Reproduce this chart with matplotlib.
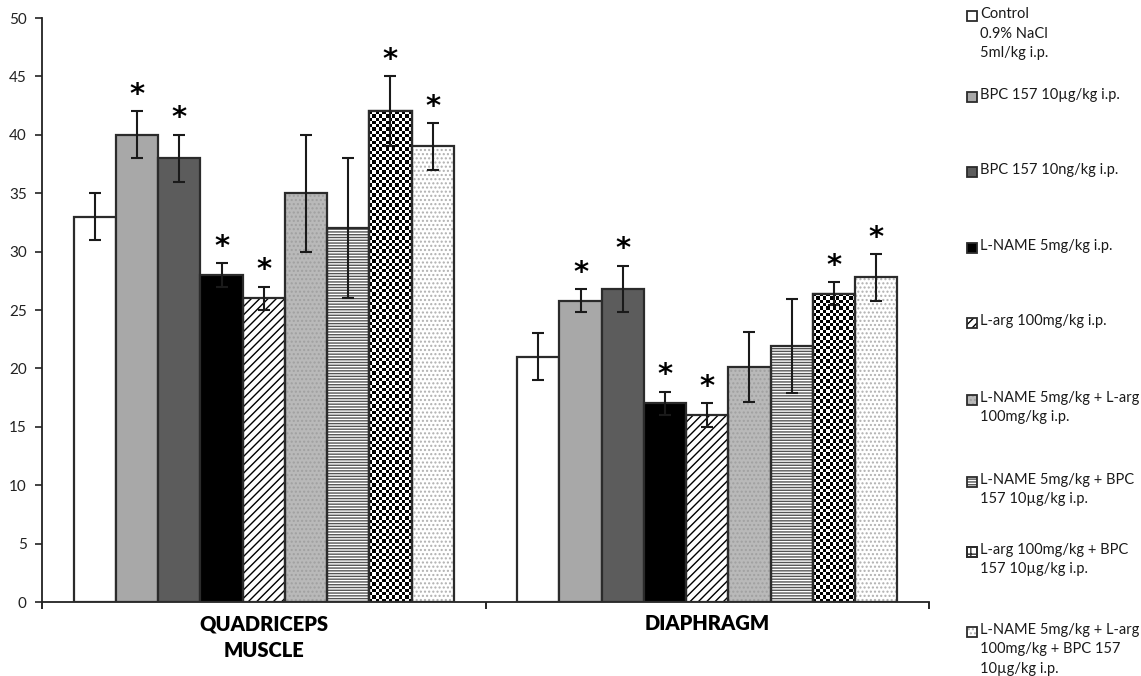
import numpy as np
import matplotlib
matplotlib.use("Agg")
import matplotlib.pyplot as plt
from matplotlib.patches import Rectangle

plt.rcParams['font.family'] = ['Lato', 'DejaVu Sans']
plt.rcParams['hatch.linewidth'] = 1.0

# data
categories = ["QUADRICEPS\nMUSCLE", "DIAPHRAGM"]
groups = ["Control\n0.9% NaCl\n5ml/kg i.p.",
          "BPC 157 10µg/kg i.p.",
          "BPC 157 10ng/kg i.p.",
          "L-NAME 5mg/kg i.p.",
          "L-arg 100mg/kg i.p.",
          "L-NAME 5mg/kg + L-arg\n100mg/kg i.p.",
          "L-NAME 5mg/kg + BPC\n157 10µg/kg i.p.",
          "L-arg 100mg/kg + BPC\n157 10µg/kg i.p.",
          "L-NAME 5mg/kg + L-arg\n100mg/kg + BPC 157\n10µg/kg i.p."]
quad = [33, 40, 38, 28, 26, 35, 32, 42, 39]
quad_err = [2, 2, 2, 1, 1, 5, 6, 3, 2]
diaph = [21, 25.8, 26.8, 17, 16, 20.1, 21.9, 26.4, 27.8]
diaph_err = [2, 1, 2, 1, 1, 3, 4, 1, 2]
quad_sig = [0, 1, 1, 1, 1, 0, 0, 1, 1]
diaph_sig = [0, 1, 1, 1, 1, 0, 0, 1, 1]

# style per series: face, hatch, hatch colour, checker
styles = [
    ("white", None, None, False),
    ("#a8a8a8", None, None, False),
    ("#5c5c5c", None, None, False),
    ("black", None, None, False),
    ("white", "////", "black", False),
    ("#b9b9b9", "....", "#a0a0a0", False),
    ("white", "------", "#555555", False),
    ("white", None, None, True),
    ("white", "....", "#b0b0b0", False),
]

W, H = 1141, 676
fig = plt.figure(figsize=(W / 100, H / 100), dpi=100)
ax = fig.add_axes([42 / W, 1 - 602 / H, (929 - 42) / W, (602 - 18) / H])

values = np.array([quad, diaph]).T      # shape (9, 2)
errs = np.array([quad_err, diaph_err]).T
sigs = np.array([quad_sig, diaph_sig]).T
x = np.arange(len(categories))
n = len(groups)
bw = 0.0952
edge = "#2b2b2b"

ax.set_xlim(-0.5, 1.5)
ax.set_ylim(0, 50)
px_per_x = (929 - 42) / 2.0
px_per_y = (602 - 18) / 50.0


def checker(ax, bar, cell=3.3):
    bx, by = bar.get_x(), bar.get_y()
    w, h = bar.get_width(), bar.get_height()
    nc = max(1, int(round(w * px_per_x / cell)))
    nr = max(1, int(round(h * px_per_y / cell)))
    arr = (np.add.outer(np.arange(nr), np.arange(nc)) % 2).astype(float)
    im = ax.imshow(arr, cmap="gray", extent=(bx, bx + w, by, by + h),
                   interpolation="nearest", aspect="auto", zorder=2, vmin=0, vmax=1)
    im.set_clip_path(bar)


for i in range(n):
    face, hatch, hcol, chk = styles[i]
    pos = x + (i - (n - 1) / 2) * bw
    if hatch:
        ax.bar(pos, values[i], bw, color=face, edgecolor=hcol, hatch=hatch,
               linewidth=0, zorder=2)
        bars = ax.bar(pos, values[i], bw, color="none", edgecolor=edge,
                      linewidth=1.6, zorder=3)
    else:
        bars = ax.bar(pos, values[i], bw, color=face, edgecolor=edge,
                      linewidth=1.6, zorder=3 if not chk else 2)
        if chk:
            for b in bars:
                checker(ax, b)
            ax.bar(pos, values[i], bw, color="none", edgecolor=edge,
                   linewidth=1.6, zorder=3)
    ax.errorbar(pos, values[i], yerr=errs[i], fmt="none", ecolor="#1a1a1a",
                elinewidth=1.5, capsize=4, capthick=1.5, zorder=4)
    for j in range(len(categories)):
        if sigs[i][j]:
            ax.text(pos[j], values[i][j] + errs[i][j] + 0.2, "*", ha="center",
                    va="bottom", fontsize=21, fontweight="bold",
                    family="DejaVu Sans")

# axes style
for s in ["top", "right"]:
    ax.spines[s].set_visible(False)
for s in ["left", "bottom"]:
    ax.spines[s].set_linewidth(1.3)
    ax.spines[s].set_color("#222222")
ax.set_yticks(np.arange(0, 51, 5))
ax.tick_params(axis="y", direction="out", length=5, width=1.2, labelsize=11,
               pad=6, colors="#222222")
ax.set_xticks(x)
ax.set_xticklabels(categories, fontsize=14.5, fontweight="heavy",
                   linespacing=1.45)
ax.tick_params(axis="x", length=0, pad=9)
ax.set_xticks([-0.5, 0.5, 1.5], minor=True)
ax.tick_params(axis="x", which="minor", length=5, width=1.2, direction="out")

# legend drawn by hand
leg_y = [16, 97, 172, 248, 323, 400, 482, 552, 632]
for i in range(n):
    face, hatch, hcol, chk = styles[i]
    yc = leg_y[i]
    r = Rectangle((967 / W, 1 - (yc + 5) / H), 10 / W, 10 / H,
                  transform=fig.transFigure, facecolor=face,
                  edgecolor=hcol if hatch else edge, hatch=hatch,
                  linewidth=0 if hatch else 1.3)
    fig.add_artist(r)
    if hatch or chk:
        fig.add_artist(Rectangle((967 / W, 1 - (yc + 5) / H), 10 / W, 10 / H,
                                 transform=fig.transFigure, facecolor="none",
                                 edgecolor=edge, linewidth=1.3,
                                 hatch="++" if chk else None))
    fig.text(980 / W, 1 - (yc - 9) / H, groups[i], ha="left", va="top",
             fontsize=10.5, linespacing=1.5, color="#1a1a1a")

fig.savefig("out.png", dpi=100)
